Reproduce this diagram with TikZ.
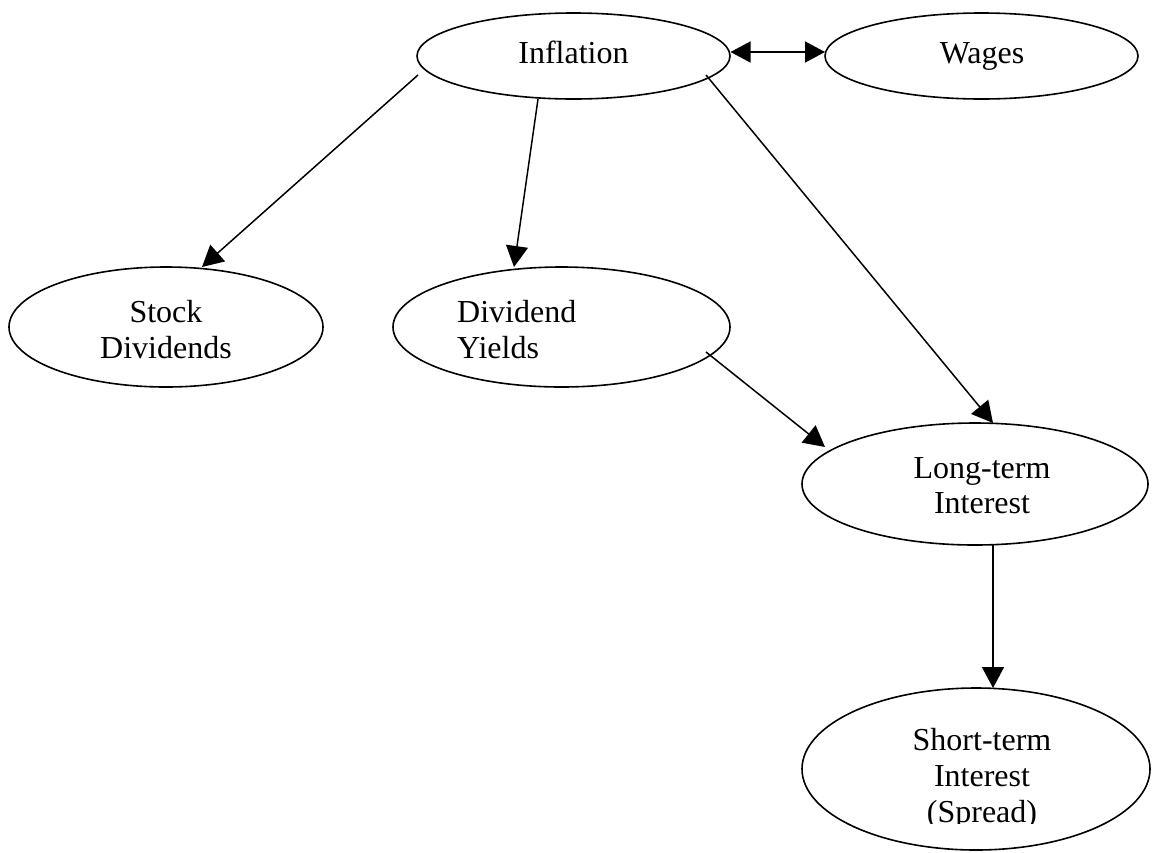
\documentclass[tikz,border=0pt]{standalone}
\usepackage{fontspec}
\setmainfont{Liberation Serif}
\usetikzlibrary{shapes.geometric,arrows.meta,calc}
\tikzset{
  ell/.style={draw=black, line width=1.6pt, ellipse, inner sep=0pt},
  lbl/.style={inner sep=0pt, anchor=base, font=\fontsize{32}{36}\selectfont},
  lbll/.style={lbl, anchor=base west},
  arr/.style={line width=1.5pt, -{Triangle[length=21pt,width=22pt]}},
  darr/.style={line width=1.5pt, {Triangle[length=20pt,width=21pt]}-{Triangle[length=20pt,width=21pt]}}
}
\begin{document}
\begin{tikzpicture}[x=1pt,y=-1pt]
\useasboundingbox (0,0) rectangle (1155,852);
% ellipses
\node[ell, minimum width=313pt, minimum height=86pt] (infl) at (573.5,56) {};
\node[ell, minimum width=313pt, minimum height=86pt] (wages) at (981.5,56) {};
\node[ell, minimum width=314pt, minimum height=120pt] (stock) at (166,327) {};
\node[ell, minimum width=337pt, minimum height=120pt] (divy) at (561.5,327) {};
\node[ell, minimum width=346pt, minimum height=122pt] (long) at (975,484) {};
\node[ell, minimum width=348pt, minimum height=162pt] (short) at (976,769) {};
% labels
\node[lbl] (tinfl) at (573.5,63) {Inflation};
\node[lbl] (twages) at (982,63) {Wages};
\node[lbl] (tstock1) at (166,322) {Stock};
\node[lbl] (tstock2) at (166,358) {Dividends};
\node[lbll] (tdivy1) at (457,322) {Dividend};
\node[lbll] (tdivy2) at (457,358) {Yields};
\node[lbl] (tlong1) at (982,478) {Long-term};
\node[lbl] (tlong2) at (982,513) {Interest};
\node[lbl] (tshort1) at (982,750) {Short-term};
\node[lbl] (tshort2) at (982,786) {Interest};
\begin{scope}
\clip (800,790) rectangle (1155,823);
\node[lbl] (tshort3) at (982,822) {(Spread)};
\end{scope}
% connectors
\draw[darr] ($(infl.center)+(157,-4)$) -- ($(wages.center)+(-156.5,-4)$);
\draw[arr] ($(infl.center)+(-155.5,19)$) -- ($(stock.center)+(36,-60)$);
\draw[arr] ($(infl.center)+(-35.5,43)$) -- ($(divy.center)+(-47.5,-60)$);
\draw[arr] ($(infl.center)+(132.5,19)$) -- ($(long.center)+(18,-61)$);
\draw[arr] ($(divy.center)+(144.5,25)$) -- ($(long.center)+(-150,-37)$);
\draw[arr] ($(long.center)+(18,61)$) -- ($(short.center)+(17,-81)$);
\end{tikzpicture}
\end{document}
